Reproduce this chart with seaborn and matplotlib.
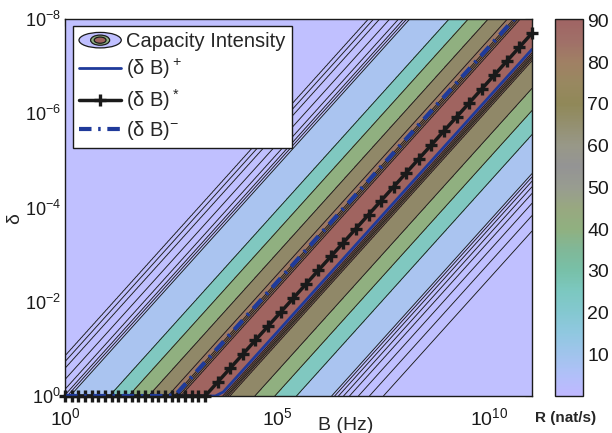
import numpy as np
import matplotlib
matplotlib.use("Agg")
import matplotlib.pyplot as plt
import seaborn as sns
from matplotlib.colors import LinearSegmentedColormap, Normalize
from matplotlib.cm import ScalarMappable
from matplotlib.patches import Ellipse
from matplotlib.lines import Line2D
from matplotlib.legend_handler import HandlerBase
from matplotlib.ticker import NullLocator

sns.set_theme(style="white")
plt.rcParams['font.family'] = ['Liberation Sans', 'DejaVu Sans']
plt.rcParams['mathtext.fontset'] = 'custom'
plt.rcParams['mathtext.rm'] = 'Liberation Sans'
plt.rcParams['mathtext.it'] = 'Liberation Sans:italic'
plt.rcParams['mathtext.bf'] = 'Liberation Sans:bold'

# capacity R (nat/s) against log10(delta*B)
log_dB = [-8.0, -1.2, -0.85, -0.73, -0.59, -0.35, -0.14, -0.02, 0.05, 0.12,
          1.05, 1.5, 1.97, 2.42, 2.57, 2.62, 2.67, 2.72, 3.25,
          3.72, 3.76, 3.80, 3.84, 3.88, 4.47, 4.94, 5.45,
          6.28, 6.35, 6.44, 6.56, 6.70, 6.91, 7.17, 7.5, 7.8, 11.0]
rate = [0, 0, 1, 2, 3, 4, 5, 6, 7, 8,
        20, 32, 48, 72, 78, 80, 82, 84, 90.3,
        84, 82, 80, 78, 72, 48, 32, 20,
        8, 7, 6, 5, 4, 3, 2, 1, 0, 0]

fill_levels = [-1, 8, 20, 32, 48, 72, 84, 91]
fill_colors = ['#c0c0ff', '#aac4f0', '#80c8c0', '#90b080', '#908868', '#9c7864', '#a06460']
line_levels = [1, 2, 3, 4, 5, 6, 7, 8, 20, 32, 48, 72, 78, 80, 82, 84]

# optimal products delta*B
dB_plus = 4400.0
dB_star = 2000.0
dB_minus = 380.0

# colorbar colours (value, colour)
cbar_vals = [0, 5, 10, 15, 20, 25, 30, 35, 40, 45, 50, 55, 60, 65, 70, 75, 80, 85, 90.3]
cbar_cols = ['#c0b8ff', '#b0c0f8', '#a0c4ec', '#90c8e0', '#84c8d0', '#7cc8c0', '#78c0a8',
             '#80b898', '#90b080', '#98a880', '#989c90', '#949494', '#989888', '#949070',
             '#908858', '#988860', '#a08064', '#a07068', '#a06464']
cmap = LinearSegmentedColormap.from_list(
    'cap', [(v / cbar_vals[-1], c) for v, c in zip(cbar_vals, cbar_cols)])


class ContourKey:
    pass


class ContourHandler(HandlerBase):
    def create_artists(self, legend, orig_handle, xdescent, ydescent,
                       width, height, fontsize, trans):
        cx, cy = 0.5 * width - xdescent, 0.5 * height - ydescent
        arts = []
        for fw, fh, c in zip([1.0, 0.45, 0.28], [1.1, 0.72, 0.44],
                             ['#c0c0ff', '#90b080', '#a06460']):
            arts.append(Ellipse((cx, cy), width * fw, height * fh, facecolor=c,
                                edgecolor='k', lw=0.9, transform=trans))
        return arts


fig = plt.figure(figsize=(6.12, 4.33), dpi=100)
ax = fig.add_axes([65 / 612, 37 / 433, 467 / 612, 377 / 433])
cax = fig.add_axes([555 / 612, 37 / 433, 28 / 612, 377 / 433])

bx = np.linspace(0, 11, 500)
dy = np.linspace(-8, 0, 500)
LX, LY = np.meshgrid(bx, dy)
Z = np.interp(LX + LY, log_dB, rate)
ax.contourf(10 ** LX, 10 ** LY, Z, levels=fill_levels, colors=fill_colors)
ax.contour(10 ** LX, 10 ** LY, Z, levels=line_levels, colors='k', linewidths=0.65)

blue = '#1f3a9a'
b_plus = np.geomspace(1, 1e11, 60)
sns.lineplot(x=b_plus, y=np.minimum(1, dB_plus / b_plus), ax=ax, color=blue, lw=2)
b_star = np.concatenate([np.geomspace(1, dB_star, 22), np.geomspace(dB_star, 1e11, 27)[1:]])
sns.lineplot(x=b_star, y=np.minimum(1, dB_star / b_star), ax=ax, color='k', lw=2.5,
             marker='+', ms=8, mew=2.4, mec='k', clip_on=False)
b_minus = np.geomspace(1, 1e11, 60)
sns.lineplot(x=b_minus, y=np.minimum(1, dB_minus / b_minus), ax=ax, color=blue, lw=3,
             ls=(0, (3, 1.6, 0.6, 1.6)))

ax.set_xscale('log')
ax.set_yscale('log')
ax.set_xlim(1, 1e11)
ax.set_ylim(1, 1e-8)
ax.set_xticks([1, 1e5, 1e10])
ax.set_yticks([1, 1e-2, 1e-4, 1e-6, 1e-8])
ax.xaxis.set_minor_locator(NullLocator())
ax.yaxis.set_minor_locator(NullLocator())
ax.tick_params(direction='in', top=True, right=True, length=5, width=0.8,
               labelsize=14, colors='k')
ax.tick_params(axis='x', pad=8)
ax.tick_params(axis='y', pad=3, labelsize=13)
for s in ax.spines.values():
    s.set_color('k')
    s.set_linewidth(1)
    s.set_visible(True)

ax.set_xlabel('B (Hz)', fontsize=14)
ax.xaxis.set_label_coords(0.60, -0.077)
ax.xaxis.label.set_va('center')
ax.set_ylabel('δ', fontsize=14)
ax.yaxis.set_label_coords(-0.108, 0.47)
ax.yaxis.label.set_va('center')

handles = [ContourKey(),
           Line2D([], [], color=blue, lw=2),
           Line2D([], [], color='k', lw=2.5, marker='+', ms=8, mew=2.4),
           Line2D([], [], color=blue, lw=3, ls=(0, (3, 1.6, 0.6, 1.6)))]
labels = ['Capacity Intensity', r'(δ B)$^+$', r'(δ B)$^*$', r'(δ B)$^{-}$']
leg = ax.legend(handles, labels, handler_map={ContourKey: ContourHandler()},
                loc='upper left', bbox_to_anchor=(0.017, 0.981), borderaxespad=0,
                fontsize=14.5, handlelength=2.1, handletextpad=0.25, labelspacing=0.3,
                borderpad=0.3, fancybox=False, framealpha=1, edgecolor='k')
leg.get_frame().set_linewidth(1)

cb = fig.colorbar(ScalarMappable(norm=Normalize(0, 90.3), cmap=cmap), cax=cax,
                  ticks=list(range(10, 100, 10)))
cb.outline.set_edgecolor('k')
cb.outline.set_linewidth(1)
cax.tick_params(direction='in', left=True, right=True, length=4, width=0.8,
                labelsize=14, pad=3, colors='k')
fig.text(566 / 612, 1 - 418 / 433, 'R (nat/s)', fontsize=11, fontweight='bold',
         ha='center', va='center')

fig.savefig('out.png', dpi=100)
